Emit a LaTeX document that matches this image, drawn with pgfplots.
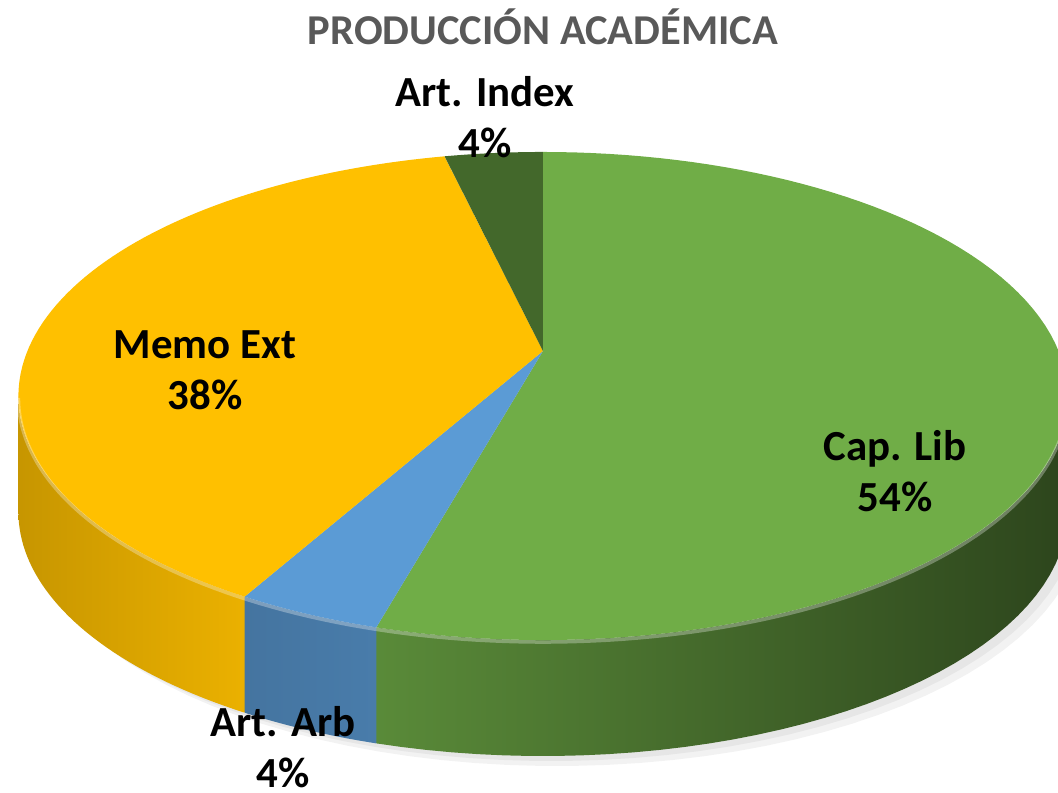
\documentclass[border=0pt]{standalone}
\usepackage{fontspec}
\setmainfont{Carlito}
\usepackage{pgfplots}
\pgfplotsset{compat=1.18}
\definecolor{cgreen}{HTML}{70AD47}
\definecolor{cblue}{HTML}{5B9BD5}
\definecolor{cyellow}{HTML}{FFC000}
\definecolor{cdkgreen}{HTML}{43682B}
\definecolor{titlegray}{HTML}{595959}
% data (percent, estimated; labels show rounded values)
\def\vCap{54.3}\def\vArb{3.8}\def\vMemo{38.3}\def\vIdx{3.6}
\pgfmathsetmacro{\aA}{0}
\pgfmathsetmacro{\aB}{\aA+3.6*\vCap}
\pgfmathsetmacro{\aC}{\aB+3.6*\vArb}
\pgfmathsetmacro{\aD}{\aC+3.6*\vMemo}
\pgfmathsetmacro{\aE}{\aD+3.6*\vIdx}
\pgfmathsetmacro{\sL}{acos(-0.1803)}
\pgfmathsetmacro{\sR}{360-\sL}
\tikzset{declare function={
  px(\t)=543+516*sin(\t)/(1+0.1803*cos(\t));
  py(\t)=352-236.1*cos(\t)/(1+0.1803*cos(\t));
}}
\newcommand\pwedge[3]{% t1 t2 color
  \addplot[fill=#3, draw=none, domain=#1:#2, samples=90, variable=\t]
    ({px(\t)},{py(\t)}) -- (axis cs:543,351) -- cycle;}
\newcommand\pwall[4]{% t1 t2 leftcolor rightcolor
  \addplot[draw=none, left color=#3, right color=#4, domain=0:81, samples=82, variable=\s]
    ({px(ifthenelse(\s<40.5,#1+(#2-#1)*\s/40,#2-(#2-#1)*(\s-41)/40))},
     {py(ifthenelse(\s<40.5,#1+(#2-#1)*\s/40,#2-(#2-#1)*(\s-41)/40))+ifthenelse(\s<40.5,0,116)}) -- cycle;}
\begin{document}
\begin{tikzpicture}
\path[use as bounding box] (0,0) rectangle (10.58cm,7.93cm);
\begin{axis}[scale only axis, width=10.58cm, height=7.93cm,
  xmin=0, xmax=1058, ymin=0, ymax=793, y dir=reverse, hide axis,
  at={(0,0)}, anchor=south west]
% shadow
\addplot[fill=black, fill opacity=0.05, draw=none, domain=0:360, samples=120, variable=\t]
  ({px(\t)+14},{py(\t)+126}) -- cycle;
\addplot[fill=black, fill opacity=0.05, draw=none, domain=0:360, samples=120, variable=\t]
  ({px(\t)+8},{py(\t)+121}) -- cycle;
% walls
\pwall{\sL}{\aB}{cgreen!80!black}{cgreen!40!black}
\pwall{\aB}{\aC}{cblue!75!black}{cblue!80!black}
\pwall{\aC}{\sR}{cyellow!78!black}{cyellow!92!black}
% top faces
\pwedge{\aA}{\aB}{cgreen}
\pwedge{\aB}{\aC}{cblue}
\pwedge{\aC}{\aD}{cyellow}
\pwedge{\aD}{\aE}{cdkgreen}
% rim highlight
\addplot[draw=white, draw opacity=0.3, line width=0.35mm, domain=\sL:\sR, samples=120, variable=\t]
  ({px(\t)},{py(\t)+2});
% labels
\node[font=\bfseries\fontsize{12.1}{15}\selectfont, text=titlegray] at (axis cs:543,27) {PRODUCCIÓN ACADÉMICA};
\node[font=\bfseries\fontsize{12.2}{14.5}\selectfont, align=center] at (axis cs:485,117) {Art. Index\\4\%};
\node[font=\bfseries\fontsize{12.2}{14.5}\selectfont, align=center] at (axis cs:205,370) {Memo Ext\\38\%};
\node[font=\bfseries\fontsize{12.2}{14.5}\selectfont, align=center] at (axis cs:895,471) {Cap. Lib\\54\%};
\node[font=\bfseries\fontsize{12.2}{14.5}\selectfont, align=center] at (axis cs:283,747) {Art. Arb\\4\%};
\end{axis}
\end{tikzpicture}
\end{document}
